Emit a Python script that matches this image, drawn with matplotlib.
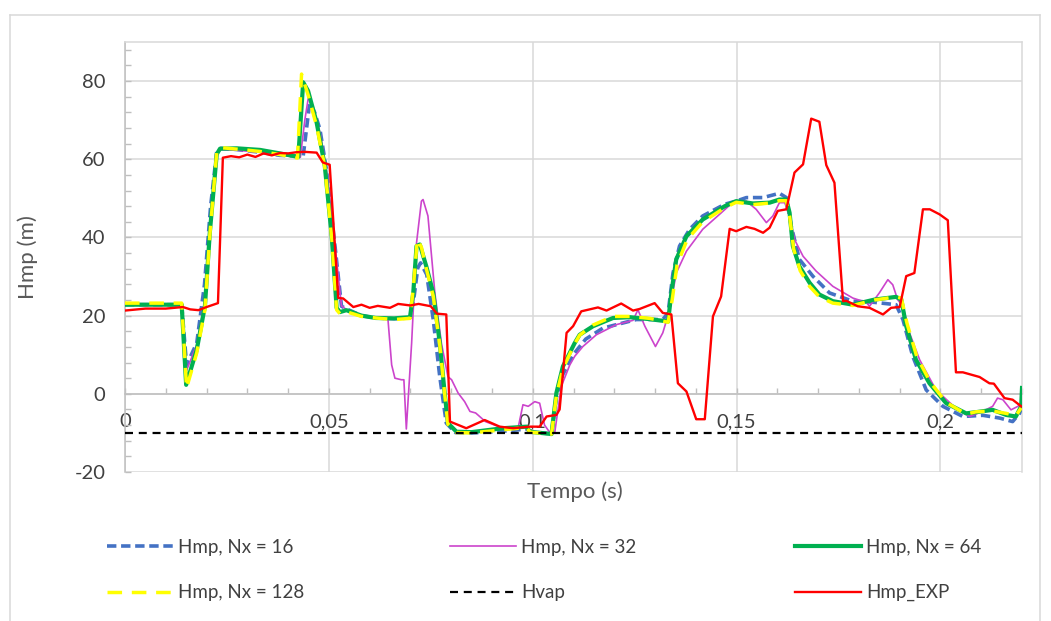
import matplotlib
matplotlib.use("Agg")
import matplotlib.pyplot as plt
from matplotlib.ticker import MultipleLocator, FixedLocator
from matplotlib.lines import Line2D

plt.rcParams['font.family'] = ['Lato', 'DejaVu Sans']
plt.rcParams['axes.unicode_minus'] = False

# ---- Hmp, Nx = 16 ----
t_nx16 = [0, 0.0139, 0.0151, 0.0176, 0.0195, 0.0210, 0.0225, 0.0235, 0.0274, 0.0331, 0.0380,
          0.0437, 0.0453, 0.0465, 0.0478, 0.0494, 0.0515, 0.0531, 0.0550, 0.0580, 0.0615, 0.0660,
          0.0699, 0.0708, 0.0718, 0.0725, 0.0740, 0.0756, 0.0772, 0.0788, 0.0810, 0.0850, 0.0927,
          0.0985, 0.0995, 0.1046, 0.1058, 0.1074, 0.1103, 0.1130, 0.1172, 0.1254, 0.1319, 0.1332,
          0.1344, 0.1360, 0.1385, 0.1417, 0.1471, 0.1499, 0.1524, 0.1565, 0.1605, 0.1622, 0.1634,
          0.1654, 0.1687, 0.1728, 0.1785, 0.1838, 0.1891, 0.1908, 0.1932, 0.1965, 0.2006, 0.2055,
          0.2104, 0.2145, 0.2177, 0.2194, 0.2200]
h_nx16 = [22.8, 22.8, 7.4, 13.0, 28.0, 48.0, 62.0, 62.8, 62.5, 61.8, 61.0,
          60.8, 74.5, 72.0, 67.7, 57.4, 37.8, 22.4, 21.4, 20.0, 19.4, 19.2,
          19.4, 24.0, 32.2, 33.5, 30.5, 19.0, 4.4, -7.5, -9.9, -10.0, -9.6,
          -9.0, -9.8, -10.2, -1.0, 5.0, 10.5, 14.0, 16.8, 19.0, 19.0, 20.7,
          30.9, 37.8, 42.1, 45.5, 48.5, 49.3, 50.2, 50.2, 51.3, 50.2, 42.9,
          34.4, 30.1, 25.8, 23.7, 23.4, 22.8, 19.0, 9.6, 1.0, -3.2, -5.8,
          -5.5, -6.2, -7.1, -5.0, -3.0]

# ---- Hmp, Nx = 32 ----
t_nx32 = [0, 0.0139, 0.0151, 0.0176, 0.0196, 0.0210, 0.0225, 0.0235, 0.0274, 0.0331, 0.0380,
          0.0430, 0.0441, 0.0450, 0.0465, 0.0480, 0.0496, 0.0515, 0.0531, 0.0550, 0.0580, 0.0615,
          0.0645, 0.0654, 0.0662, 0.0678, 0.0684, 0.0690, 0.0703, 0.0715, 0.0727, 0.0731, 0.0743,
          0.0760, 0.0776, 0.0792, 0.0801, 0.0817, 0.0833, 0.0846, 0.0860, 0.0884, 0.0917, 0.0964,
          0.0976, 0.0989, 0.1005, 0.1017, 0.1029, 0.1042, 0.1054, 0.1070, 0.1091, 0.1103, 0.1123,
          0.1156, 0.1205, 0.1246, 0.1258, 0.1275, 0.1301, 0.1319, 0.1336, 0.1352, 0.1377, 0.1417,
          0.1458, 0.1490, 0.1524, 0.1548, 0.1573, 0.1589, 0.1605, 0.1618, 0.1630, 0.1642, 0.1663,
          0.1695, 0.1736, 0.1785, 0.1818, 0.1826, 0.1850, 0.1871, 0.1883, 0.1895, 0.1908, 0.1924,
          0.1949, 0.1989, 0.2038, 0.2071, 0.2104, 0.2128, 0.2140, 0.2153, 0.2173, 0.2190, 0.2198]
h_nx32 = [22.8, 22.8, 6.0, 12.5, 24.0, 44.0, 61.5, 62.5, 62.3, 61.8, 61.0,
          60.5, 70.0, 76.0, 72.0, 66.0, 56.0, 38.0, 22.5, 21.0, 20.0, 19.5,
          19.0, 7.4, 4.0, 3.6, 3.6, -9.0, 13.0, 38.6, 49.3, 49.7, 45.5,
          25.8, 13.0, 4.4, 3.6, 0.2, -2.0, -4.5, -4.9, -7.1, -8.4, -8.8,
          -2.8, -3.2, -2.0, -2.4, -8.0, -9.9, -9.9, 1.9, 7.4, 9.6, 12.1,
          15.1, 17.7, 18.8, 21.5, 17.3, 12.1, 15.6, 21.5, 30.9, 36.5, 42.1,
          45.9, 48.9, 49.3, 47.2, 43.8, 45.5, 48.9, 48.9, 45.5, 39.5, 35.2,
          31.4, 27.5, 24.5, 23.4, 22.4, 25.8, 29.2, 27.9, 24.1, 22.4, 15.6,
          8.7, 1.0, -3.7, -5.8, -4.5, -3.2, -1.1, -1.5, -4.1, -3.2, -2.4]

# ---- Hmp, Nx = 64 ----
t_nx64 = [0, 0.0139, 0.0150, 0.0176, 0.0196, 0.0208, 0.0225, 0.0233, 0.0274, 0.0331, 0.0380,
          0.0425, 0.0437, 0.0449, 0.0470, 0.0490, 0.0507, 0.0519, 0.0527, 0.0543, 0.0580, 0.0615,
          0.0660, 0.0699, 0.0707, 0.0715, 0.0723, 0.0739, 0.0756, 0.0772, 0.0784, 0.0792, 0.0813,
          0.0850, 0.0927, 0.0985, 0.0993, 0.1046, 0.1058, 0.1074, 0.1103, 0.1115, 0.1148, 0.1197,
          0.1238, 0.1287, 0.1332, 0.1340, 0.1352, 0.1377, 0.1417, 0.1471, 0.1499, 0.1540, 0.1581,
          0.1605, 0.1622, 0.1630, 0.1638, 0.1654, 0.1679, 0.1703, 0.1736, 0.1785, 0.1838, 0.1891,
          0.1904, 0.1916, 0.1940, 0.1973, 0.2014, 0.2063, 0.2087, 0.2128, 0.2161, 0.2185, 0.2198,
          0.2200]
h_nx64 = [22.8, 22.8, 2.3, 11.3, 22.4, 41.2, 61.3, 62.7, 62.8, 62.4, 61.5,
          60.6, 79.7, 77.5, 69.4, 58.3, 40.3, 22.0, 20.9, 21.4, 20.0, 19.4,
          19.3, 19.6, 25.8, 37.8, 38.2, 32.6, 25.8, 13.0, 0.2, -7.5, -9.7,
          -9.8, -8.8, -8.4, -9.7, -10.3, 0.2, 7.0, 13.0, 15.1, 17.3, 19.4,
          19.6, 19.1, 18.5, 25.8, 34.4, 40.3, 44.6, 48.0, 49.3, 48.7, 48.9,
          49.7, 49.7, 46.3, 37.8, 32.6, 28.4, 25.4, 23.7, 22.8, 24.1, 24.8,
          24.1, 17.3, 8.7, 2.7, -2.4, -5.0, -4.7, -4.1, -5.4, -5.8, -3.2,
          1.5]

# ---- Hmp, Nx = 128 ----
t_nx128 = [0, 0.0139, 0.0151, 0.0176, 0.0196, 0.0208, 0.0225, 0.0233, 0.0274, 0.0331, 0.0380,
           0.0423, 0.0433, 0.0449, 0.0470, 0.0490, 0.0507, 0.0519, 0.0527, 0.0543, 0.0580, 0.0615,
           0.0660, 0.0699, 0.0707, 0.0717, 0.0727, 0.0739, 0.0756, 0.0772, 0.0784, 0.0792, 0.0813,
           0.0850, 0.0927, 0.0985, 0.0993, 0.1046, 0.1058, 0.1074, 0.1103, 0.1115, 0.1148, 0.1197,
           0.1238, 0.1287, 0.1332, 0.1342, 0.1354, 0.1379, 0.1417, 0.1471, 0.1499, 0.1540, 0.1581,
           0.1605, 0.1622, 0.1630, 0.1640, 0.1656, 0.1679, 0.1703, 0.1736, 0.1785, 0.1838, 0.1891,
           0.1904, 0.1918, 0.1942, 0.1975, 0.2014, 0.2063, 0.2087, 0.2128, 0.2161, 0.2185, 0.2198]
h_nx128 = [23.2, 23.2, 1.5, 10.5, 21.5, 40.5, 61.8, 63.0, 62.6, 62.0, 61.2,
           60.3, 81.8, 76.5, 68.5, 58.0, 40.0, 21.5, 20.5, 21.0, 19.8, 19.4,
           19.0, 19.3, 27.0, 39.5, 37.5, 32.0, 25.0, 12.5, 0.0, -7.8, -9.9,
           -10.0, -9.2, -8.6, -9.8, -10.3, -0.5, 6.5, 12.8, 15.0, 17.6, 19.8,
           19.8, 19.3, 18.3, 24.0, 33.0, 39.5, 44.0, 47.6, 49.0, 48.4, 48.8,
           49.4, 49.4, 45.5, 37.0, 31.5, 27.5, 24.8, 23.2, 22.6, 24.0, 24.8,
           24.5, 18.0, 9.5, 3.0, -2.2, -5.2, -4.6, -4.4, -5.0, -5.6, -3.6]

# ---- Hvap ----
t_vap = [0.0, 0.22]
h_vap = [-10.0, -10.0]

# ---- Hmp_EXP ----
t_exp = [0, 0.005, 0.010, 0.0142, 0.016, 0.018, 0.020, 0.0228, 0.0240, 0.026, 0.028, 0.030,
         0.032, 0.034, 0.036, 0.038, 0.040, 0.042, 0.044, 0.047, 0.0485, 0.0502, 0.0523, 0.0535,
         0.056, 0.058, 0.060, 0.062, 0.065, 0.067, 0.070, 0.072, 0.075, 0.0765, 0.0788, 0.0797,
         0.0837, 0.0882, 0.0919, 0.0952, 0.0993, 0.1017, 0.1034, 0.1058, 0.1066, 0.1083, 0.1099,
         0.1119, 0.1160, 0.1181, 0.1217, 0.1246, 0.1262, 0.1299, 0.1319, 0.1340, 0.1356, 0.1377,
         0.1401, 0.1422, 0.1442, 0.1462, 0.1483, 0.1499, 0.1524, 0.1544, 0.1565, 0.1581, 0.1601,
         0.1622, 0.1642, 0.1663, 0.1683, 0.1703, 0.1720, 0.1740, 0.1761, 0.1769, 0.1797, 0.1826,
         0.1859, 0.1879, 0.1900, 0.1916, 0.1936, 0.1957, 0.1974, 0.1998, 0.2018, 0.2038, 0.2055,
         0.2096, 0.2120, 0.2131, 0.2157, 0.2177, 0.2198]
h_exp = [21.3, 21.8, 21.8, 22.2, 21.6, 21.4, 22.2, 23.2, 60.4, 60.8, 60.5, 61.2,
         60.6, 61.5, 61.0, 61.6, 61.5, 61.8, 61.9, 61.7, 59.2, 58.6, 24.5, 24.4,
         22.2, 22.8, 22.0, 22.5, 22.0, 23.0, 22.6, 23.0, 22.4, 20.5, 20.3, -7.1,
         -8.8, -6.7, -8.4, -8.8, -8.4, -8.4, -5.8, -5.4, -4.0, 15.6, 17.3,
         21.1, 22.1, 21.3, 23.1, 21.3, 21.7, 23.2, 20.7, 20.3, 2.7, 0.6,
         -6.5, -6.5, 19.8, 24.9, 42.2, 41.6, 42.7, 42.2, 41.2, 42.5, 46.8,
         47.2, 56.6, 58.7, 70.4, 69.6, 58.5, 54.0, 23.7, 23.8, 22.4, 22.0,
         20.3, 22.0, 22.2, 30.1, 30.9, 47.2, 47.2, 45.9, 44.4, 5.5, 5.5,
         4.3, 2.7, 2.6, -1.1, -1.5, -3.2]

x_ticks = [0, 0.05, 0.10, 0.15, 0.20]
x_tick_labels = ['0', '0,05', '0,1', '0,15', '0,2']
y_ticks = [-20, 0, 20, 40, 60, 80]

W, H = 1051, 621
fig = plt.figure(figsize=(W / 100, H / 100), dpi=100)
ax = fig.add_axes([125 / W, 1 - 472 / H, (1022 - 125) / W, (472 - 42) / H])

GRID = '#d9d9d9'
AXIS = '#bfbfbf'
TXT = '#595959'

l16, = ax.plot(t_nx16, h_nx16, color='#4472C4', lw=2.6, dashes=(2.6, 1.3),
               label='Hmp, Nx = 16', zorder=3)
l32, = ax.plot(t_nx32, h_nx32, color='#CC44CC', lw=1.2,
               label='Hmp, Nx = 32', zorder=3)
l64, = ax.plot(t_nx64, h_nx64, color='#00B050', lw=3.0,
               label='Hmp, Nx = 64', zorder=3)
l128, = ax.plot(t_nx128, h_nx128, color='#FFFF00', lw=2.5, dashes=(4.2, 2.8),
                label='Hmp, Nx = 128', zorder=3)
lvap, = ax.plot(t_vap, h_vap, color='black', lw=1.6, dashes=(3.6, 2.6),
                label='Hvap', zorder=3)
lexp, = ax.plot(t_exp, h_exp, color='#FF0000', lw=1.7,
                label='Hmp_EXP', zorder=3)

ax.set_xlim(0, 0.22)
ax.set_ylim(-20, 90)

# horizontal axis crosses at zero
ax.spines['bottom'].set_position(('data', 0))
ax.spines['bottom'].set_color(AXIS)
ax.spines['bottom'].set_linewidth(1.1)
ax.spines['left'].set_color(AXIS)
ax.spines['left'].set_linewidth(1.1)
for s in ('top', 'right'):
    ax.spines[s].set_color(GRID)
    ax.spines[s].set_linewidth(1.1)

ax.xaxis.set_major_locator(FixedLocator(x_ticks))
ax.set_xticklabels(x_tick_labels)
ax.xaxis.set_minor_locator(MultipleLocator(0.01))
ax.yaxis.set_major_locator(FixedLocator(y_ticks))
ax.yaxis.set_minor_locator(MultipleLocator(4))

ax.tick_params(axis='x', which='both', direction='in', length=4, color=AXIS,
               width=1, labelsize=14.5, labelcolor='#404040', pad=14)
ax.tick_params(axis='y', which='both', direction='in', length=4, color=AXIS,
               width=1, labelsize=14.5, labelcolor='#404040', pad=14)

ax.grid(True, which='major', color=GRID, lw=1.1, zorder=0)
ax.set_axisbelow(True)

ax.set_ylabel('Hmp (m)', fontsize=16, color=TXT)
ax.yaxis.set_label_coords(38 / W, 1 - 257 / H, transform=fig.transFigure)
fig.text(575 / W, 1 - 492 / H, 'Tempo (s)', fontsize=16, color=TXT,
         ha='center', va='center')

# legend: three columns, two rows
cols = [([l16, l128], 107), ([l32, lvap], 450), ([l64, lexp], 795)]
for handles, xpix in cols:
    fig.legend(handles=handles, loc='upper left',
               bbox_to_anchor=(xpix / W, 1 - 539 / H), frameon=False,
               fontsize=13.5, handlelength=3.5, handletextpad=0.3,
               borderpad=0, borderaxespad=0, labelspacing=1.5,
               labelcolor='#404040')

# chart area frame
frame_kw = dict(color=GRID, lw=1.1, transform=fig.transFigure)
fig.add_artist(Line2D([10 / W, 10 / W], [0, 1 - 15 / H], **frame_kw))
fig.add_artist(Line2D([10 / W, 1040 / W], [1 - 15 / H, 1 - 15 / H], **frame_kw))
fig.add_artist(Line2D([1040 / W, 1040 / W], [0, 1 - 15 / H], **frame_kw))

fig.savefig('out.png', dpi=100, facecolor='white')
